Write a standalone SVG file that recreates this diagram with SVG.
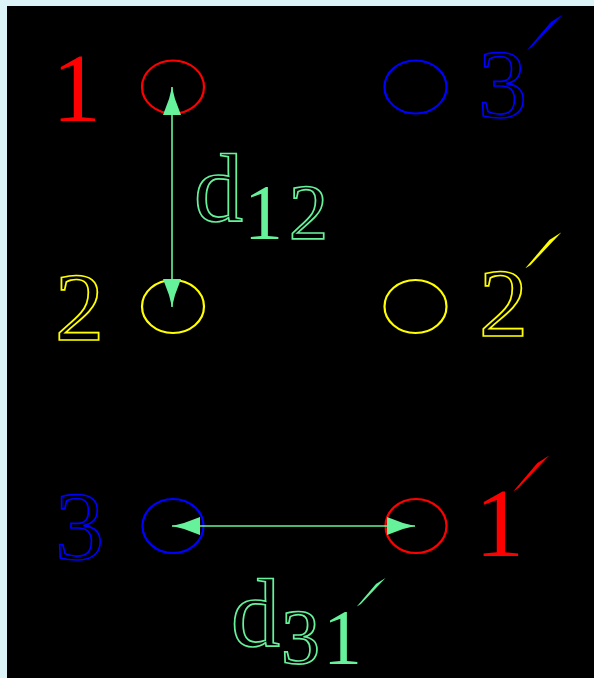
<svg xmlns="http://www.w3.org/2000/svg" width="594" height="678" viewBox="0 0 594 678">
  <style>
    .lbl { font-family: "Liberation Serif", "Times New Roman", serif; font-size: 98px; }
    .sub { font-size: 78px; }
    .prime { font-family: "DejaVu Sans", sans-serif; font-size: 170px; }
    .red { fill: #FF0000; }
    .blue { fill: #0000FF; }
    .yellow { fill: #FFFF00; }
    .green { fill: #66F29B; }
    .ol { fill: none; stroke-width: 1.7; }
    .ol.blue { stroke: #0000FF; }
    .ol.yellow { stroke: #FFFF00; }
    .ol.green { stroke: #66F29B; }
    .solid { fill: #66F29B; stroke: none; }
    .ring { fill: none; stroke-width: 2.2; }
    .conn { stroke: #66F29B; stroke-width: 1.6; fill: none; }
  </style>
  <defs>
    <marker id="ah" viewBox="0 0 28 18" refX="28" refY="9" markerWidth="28" markerHeight="18" markerUnits="userSpaceOnUse" orient="auto-start-reverse">
      <path d="M0,0 L16,6 L28,9 L16,12 L0,18 Z" fill="#66F29B"/>
    </marker>
  </defs>
  <rect x="0" y="0" width="594" height="678" fill="#DCF4F8"/>
  <rect x="7" y="6" width="587" height="672" fill="#000000"/>

  <g id="node-1">
    <ellipse class="ring" cx="173" cy="87" rx="31" ry="26.5" stroke="#FF0000"/>
    <text class="lbl red" x="52" y="121">1</text>
  </g>
  <g id="node-3p">
    <ellipse class="ring" cx="415.5" cy="87" rx="31" ry="26.5" stroke="#0000FF"/>
    <text class="lbl ol blue" x="478" y="117">3</text>
    <text class="prime blue" x="0" y="0" transform="translate(544.5,32) matrix(0.7,-0.45,-0.45,0.7,0,0) translate(-18,109.5)">′</text>
  </g>
  <g id="node-2">
    <ellipse class="ring" cx="173" cy="306.5" rx="31" ry="26.5" stroke="#FFFF00"/>
    <text class="lbl ol yellow" x="55" y="340">2</text>
  </g>
  <g id="node-2p">
    <ellipse class="ring" cx="415.5" cy="306.5" rx="31" ry="26.5" stroke="#FFFF00"/>
    <text class="lbl ol yellow" x="479" y="336">2</text>
    <text class="prime yellow" x="0" y="0" transform="translate(543,250) matrix(0.7,-0.45,-0.45,0.7,0,0) translate(-18,109.5)">′</text>
  </g>
  <g id="node-3">
    <ellipse class="ring" cx="173" cy="526" rx="30.5" ry="27" stroke="#0000FF"/>
    <text class="lbl ol blue" x="55" y="559">3</text>
  </g>
  <g id="node-1p">
    <ellipse class="ring" cx="416" cy="526" rx="30.5" ry="27" stroke="#FF0000"/>
    <text class="lbl red" x="475" y="556">1</text>
    <text class="prime red" x="0" y="0" transform="translate(531,473) matrix(0.7,-0.45,-0.45,0.7,0,0) translate(-18,109.5)">′</text>
  </g>

  <g id="connectors">
    <line class="conn" x1="172" y1="87" x2="172" y2="307" marker-start="url(#ah)" marker-end="url(#ah)"/>
    <line class="conn" x1="172" y1="526" x2="415" y2="526" marker-start="url(#ah)" marker-end="url(#ah)"/>
  </g>

  <g id="label-d12">
    <text class="lbl ol green" x="194" y="221">d<tspan class="sub solid" x="244" y="238">1</tspan><tspan class="sub" x="289" y="238">2</tspan></text>
  </g>
  <g id="label-d31p">
    <text class="lbl ol green" x="231" y="646">d<tspan class="sub" x="281" y="663">3</tspan><tspan class="sub solid" x="323" y="663">1</tspan></text>
    <text class="prime green" x="0" y="0" transform="translate(371,592) scale(0.8) matrix(0.7,-0.45,-0.45,0.7,0,0) translate(-18,109.5)">′</text>
  </g>
</svg>
